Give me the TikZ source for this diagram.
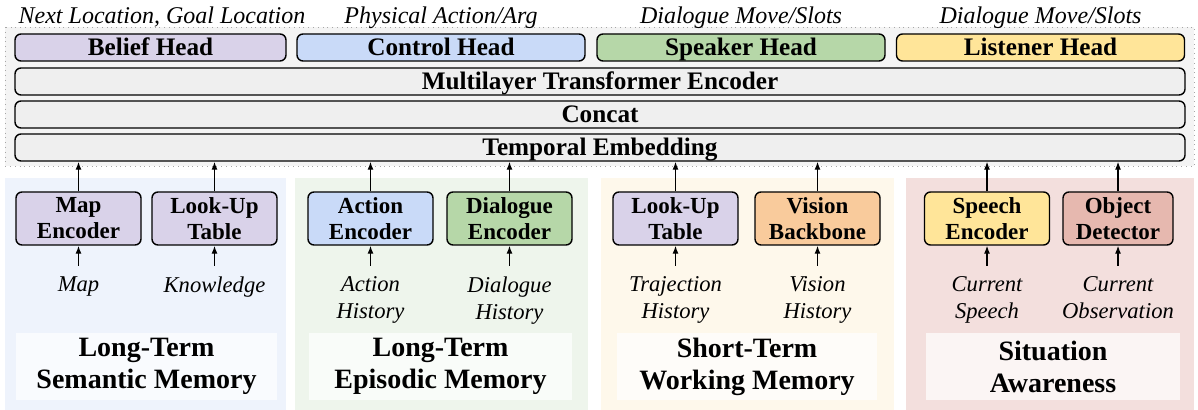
\documentclass[tikz,border=0pt]{standalone}
\usepackage{fontspec}
\setmainfont{Liberation Serif}
\usetikzlibrary{arrows.meta}

\definecolor{purp}{HTML}{D9D2E9}
\definecolor{bluehd}{HTML}{C9DAF8}
\definecolor{greenhd}{HTML}{B6D7A8}
\definecolor{yellhd}{HTML}{FFE599}
\definecolor{orangehd}{HTML}{F9CB9C}
\definecolor{redhd}{HTML}{E6B8AF}
\definecolor{bargray}{HTML}{EFEFEF}
\definecolor{outerbg}{HTML}{F4F4F4}
\definecolor{bgone}{HTML}{EEF3FC}
\definecolor{bgtwo}{HTML}{EEF5EC}
\definecolor{bgthree}{HTML}{FEF8EB}
\definecolor{bgfour}{HTML}{F3DFDD}

\begin{document}
\begin{tikzpicture}[x=0.5pt,y=-0.5pt,
    blk/.style={draw, line width=0.7pt, rounded corners=3pt, inner sep=0pt,
      font=\fontsize{11.5}{13}\selectfont\bfseries, align=center},
    modbox/.style={blk, minimum width=62.5pt, minimum height=26.5pt},
    headbox/.style={blk, minimum height=13.5pt, text height=9.4pt, text depth=1pt,
      font=\fontsize{12.6}{13}\selectfont\bfseries},
    bar/.style={headbox, fill=bargray, minimum width=585pt},
    inp/.style={font=\fontsize{11.3}{13.5}\selectfont\itshape, align=center, inner sep=0pt},
    outlbl/.style={inp, anchor=base, font=\fontsize{12}{13.5}\selectfont\itshape},
    ttl/.style={fill=white, fill opacity=0.7, text opacity=1, inner sep=0pt,
      minimum height=33.5pt, font=\fontsize{14}{16}\selectfont\bfseries, align=center},
    up/.style={-{Latex[length=4pt,width=3pt]}, line width=0.6pt}]
    \useasboundingbox (0,0) rectangle (1198,410);

    % backgrounds
    \draw[dotted, gray!70, fill=outerbg] (5,27) rectangle (1194,166);
    \fill[bgone] (5,178) rectangle (286,410);
    \fill[bgtwo] (295,178) rectangle (588,410);
    \fill[bgthree] (601,178) rectangle (894,410);
    \fill[bgfour] (906,178) rectangle (1194,410);

    % heads and shared layers
    \node[headbox, fill=purp, minimum width=135.5pt] (belief) at (150.5,47.5) {Belief Head};
    \foreach \x/\c/\t/\n in {441/bluehd/Control Head/control, 741/greenhd/Speaker Head/speaker, 1040.5/yellhd/Listener Head/listener}
    {
      \node[headbox, fill=\c, minimum width=144pt] (\n) at (\x,47.5) {\t};
    }
    \node[outlbl] (outbelief) at (162,24) {Next Location, Goal Location};
    \node[outlbl] (outcontrol) at (441,24) {Physical Action/Arg};
    \node[outlbl] (outspeaker) at (741,24) {Dialogue Move/Slots};
    \node[outlbl] (outlistener) at (1040.5,24) {Dialogue Move/Slots};

    \node[bar] (transformer) at (600,81.5) {Multilayer Transformer Encoder};
    \node[bar] (concat) at (600,114.5) {Concat};
    \node[bar] (temporal) at (600,147.5) {Temporal Embedding};

    % encoders
    \node[modbox, fill=purp] (mapenc) at (78.5,218.5) {Map\\Encoder};
    \node[modbox, fill=purp] (lookupa) at (214.5,218.5) {Look-Up\\Table};
    \node[modbox, fill=bluehd] (actenc) at (370.5,218.5) {Action\\Encoder};
    \node[modbox, fill=greenhd] (dlgenc) at (509.5,218.5) {Dialogue\\Encoder};
    \node[modbox, fill=purp] (lookupb) at (675.5,218.5) {Look-Up\\Table};
    \node[modbox, fill=orangehd] (vision) at (817.5,218.5) {Vision\\Backbone};
    \node[modbox, fill=yellhd] (speechenc) at (987,218.5) {Speech\\Encoder};
    \node[modbox, fill=redhd, minimum width=55pt] (objdet) at (1118,218.5) {Object\\Detector};

    % inputs
    \node[inp, anchor=north] (map) at (78.5,276) {Map};
    \node[inp, anchor=north] (know) at (214.5,276) {Knowledge};
    \node[inp, anchor=north] (acthist) at (370.5,276) {Action\\History};
    \node[inp, anchor=north] (dlghist) at (509.5,276) {Dialogue\\History};
    \node[inp, anchor=north] (trajhist) at (675.5,276) {Trajection\\History};
    \node[inp, anchor=north] (vishist) at (817.5,276) {Vision\\History};
    \node[inp, anchor=north] (curspeech) at (987,276) {Current\\Speech};
    \node[inp, anchor=north] (curobs) at (1118,276) {Current\\Observation};

    \foreach \a/\b in {map/mapenc, know/lookupa, acthist/actenc, dlghist/dlgenc,
      trajhist/lookupb, vishist/vision, curspeech/speechenc, curobs/objdet}
    {
      \draw[up] ([yshift=5pt]\a.north) -- (\b.south);
      \draw[up] (\b.north) -- (\b.north |- temporal.south);
    }

    % memory titles
    \node[ttl, minimum width=130.5pt] (semantic) at (146.5,366.5) {Long-Term\\Semantic Memory};
    \node[ttl, minimum width=131.5pt] (episodic) at (440.5,366.5) {Long-Term\\Episodic Memory};
    \node[ttl, minimum width=130pt] (working) at (747,366.5) {Short-Term\\Working Memory};
    \node[ttl, minimum width=127pt] (situation) at (1053,366.5) {Situation\\Awareness};
\end{tikzpicture}
\end{document}
